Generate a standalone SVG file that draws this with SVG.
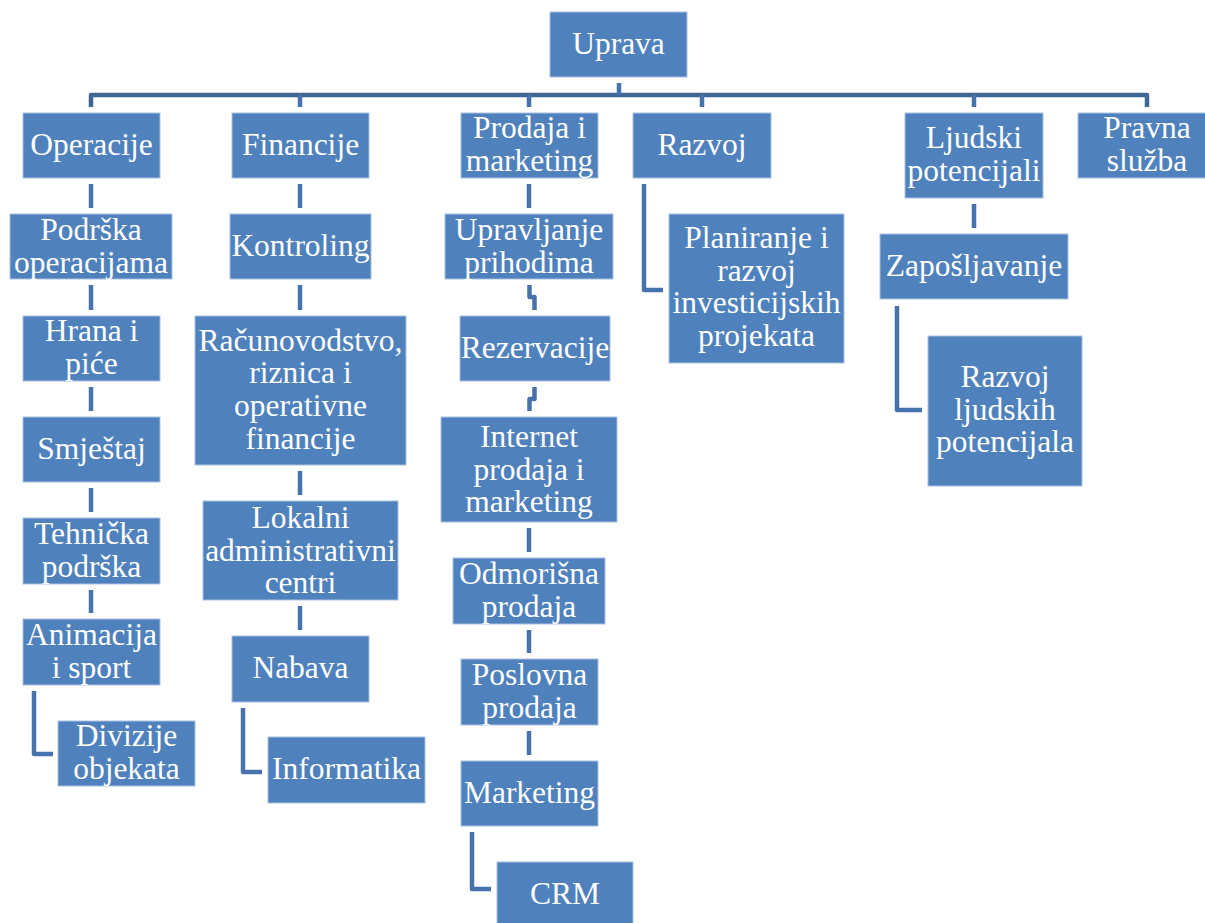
<svg xmlns="http://www.w3.org/2000/svg" width="1205" height="923" viewBox="0 0 1205 923">
<style>
.box{fill:#4F81BD;stroke:#A9C1E0;stroke-width:1}
.c{fill:none;stroke:#4673AC;stroke-width:4.5;stroke-linejoin:round;stroke-linecap:butt}
.bus{fill:none;stroke:#3E6797;stroke-width:4.5;stroke-linejoin:round}
</style>
<rect width="1205" height="923" fill="#FFFFFF"/>
<g id="connectors">
<path class="bus" d="M91,107 V95 H1147 V107"/>
<path class="c" d="M619,83 V95"/>
<path class="c" d="M300,95 V107 M529,95 V107 M702,95 V107 M974,95 V107"/>
<path class="c" d="M91,184 V208 M91,285 V310 M91,387 V411 M91,488 V512 M91,590 V613"/>
<path class="c" d="M34,691 V754 H53"/>
<path class="c" d="M300,184 V208 M300,285 V310 M300,471 V495 M300,606 V630"/>
<path class="c" d="M243,708 V772 H262"/>
<path class="c" d="M529,184 V208"/>
<path class="c" d="M529.5,285 V297 H534.5 V310"/>
<path class="c" d="M534.5,387 V399 H529.5 V411"/>
<path class="c" d="M529,528 V552 M529,630 V653 M529,731 V755"/>
<path class="c" d="M472,832 V889 H491"/>
<path class="c" d="M644,184 V290 H663"/>
<path class="c" d="M974,204 V228"/>
<path class="c" d="M897,306 V410 H922"/>
</g>
<g id="nodes" font-family="Liberation Serif" font-size="31.5" fill="#FFFFFF" text-anchor="middle">
<g id="uprava"><rect class="box" x="550" y="12" width="137" height="65"/><text x="618.5" y="54">Uprava</text></g>
<g id="operacije"><rect class="box" x="23" y="113" width="137" height="65"/><text x="91.5" y="155">Operacije</text></g>
<g id="financije"><rect class="box" x="232" y="113" width="137" height="65"/><text x="300.5" y="155">Financije</text></g>
<g id="prodaja"><rect class="box" x="461" y="113" width="137" height="65"/><text x="529.5" y="138">Prodaja i</text><text x="529.5" y="171">marketing</text></g>
<g id="razvoj"><rect class="box" x="633" y="113" width="138" height="65"/><text x="702" y="155">Razvoj</text></g>
<g id="ljudski"><rect class="box" x="905" y="113" width="138" height="85"/><text x="974" y="148">Ljudski</text><text x="974" y="181">potencijali</text></g>
<g id="pravna"><rect class="box" x="1078" y="113" width="138" height="65"/><text x="1147" y="138">Pravna</text><text x="1147" y="171">služba</text></g>
<g id="podrska"><rect class="box" x="10" y="214" width="162" height="65"/><text x="91" y="240">Podrška</text><text x="91" y="273">operacijama</text></g>
<g id="hrana"><rect class="box" x="23" y="316" width="137" height="65"/><text x="91.5" y="341">Hrana i</text><text x="91.5" y="374">piće</text></g>
<g id="smjestaj"><rect class="box" x="23" y="417" width="137" height="65"/><text x="91.5" y="459">Smještaj</text></g>
<g id="tehnicka"><rect class="box" x="23" y="518" width="137" height="66"/><text x="91.5" y="544">Tehnička</text><text x="91.5" y="577">podrška</text></g>
<g id="animacija"><rect class="box" x="23" y="619" width="137" height="66"/><text x="91.5" y="645">Animacija</text><text x="91.5" y="678">i sport</text></g>
<g id="divizije"><rect class="box" x="58" y="721" width="137" height="65"/><text x="126.5" y="746">Divizije</text><text x="126.5" y="779">objekata</text></g>
<g id="kontroling"><rect class="box" x="230" y="214" width="141" height="65"/><text x="300.5" y="256">Kontroling</text></g>
<g id="racunovodstvo"><rect class="box" x="195" y="316" width="211" height="149"/><text x="300.5" y="351">Računovodstvo,</text><text x="300.5" y="383">riznica i</text><text x="300.5" y="416">operativne</text><text x="300.5" y="449">financije</text></g>
<g id="lokalni"><rect class="box" x="203" y="501" width="195" height="99"/><text x="300.5" y="528">Lokalni</text><text x="300.5" y="561">administrativni</text><text x="300.5" y="593">centri</text></g>
<g id="nabava"><rect class="box" x="232" y="636" width="137" height="66"/><text x="300.5" y="678">Nabava</text></g>
<g id="informatika"><rect class="box" x="268" y="737" width="157" height="66"/><text x="346.5" y="779" textLength="149" lengthAdjust="spacing">Informatika</text></g>
<g id="upravljanje"><rect class="box" x="445" y="214" width="168" height="65"/><text x="529" y="240">Upravljanje</text><text x="529" y="273">prihodima</text></g>
<g id="rezervacije"><rect class="box" x="460" y="316" width="150" height="65"/><text x="535" y="358">Rezervacije</text></g>
<g id="internet"><rect class="box" x="441" y="417" width="176" height="105"/><text x="529" y="447">Internet</text><text x="529" y="480">prodaja i</text><text x="529" y="512">marketing</text></g>
<g id="odmorisna"><rect class="box" x="453" y="558" width="152" height="66"/><text x="529" y="584">Odmorišna</text><text x="529" y="617">prodaja</text></g>
<g id="poslovna"><rect class="box" x="461" y="659" width="137" height="66"/><text x="529.5" y="685">Poslovna</text><text x="529.5" y="718">prodaja</text></g>
<g id="marketing"><rect class="box" x="461" y="761" width="137" height="65"/><text x="529.5" y="803">Marketing</text></g>
<g id="crm"><rect class="box" x="497" y="862" width="136" height="66"/><text x="565" y="904">CRM</text></g>
<g id="planiranje"><rect class="box" x="669" y="214" width="175" height="149"/><text x="756.5" y="248">Planiranje i</text><text x="756.5" y="281">razvoj</text><text x="756.5" y="313">investicijskih</text><text x="756.5" y="346">projekata</text></g>
<g id="zaposljavanje"><rect class="box" x="880" y="234" width="188" height="65"/><text x="974" y="276">Zapošljavanje</text></g>
<g id="razvojljp"><rect class="box" x="928" y="336" width="154" height="150"/><text x="1005" y="387">Razvoj</text><text x="1005" y="420">ljudskih</text><text x="1005" y="452">potencijala</text></g>
</g>
</svg>
